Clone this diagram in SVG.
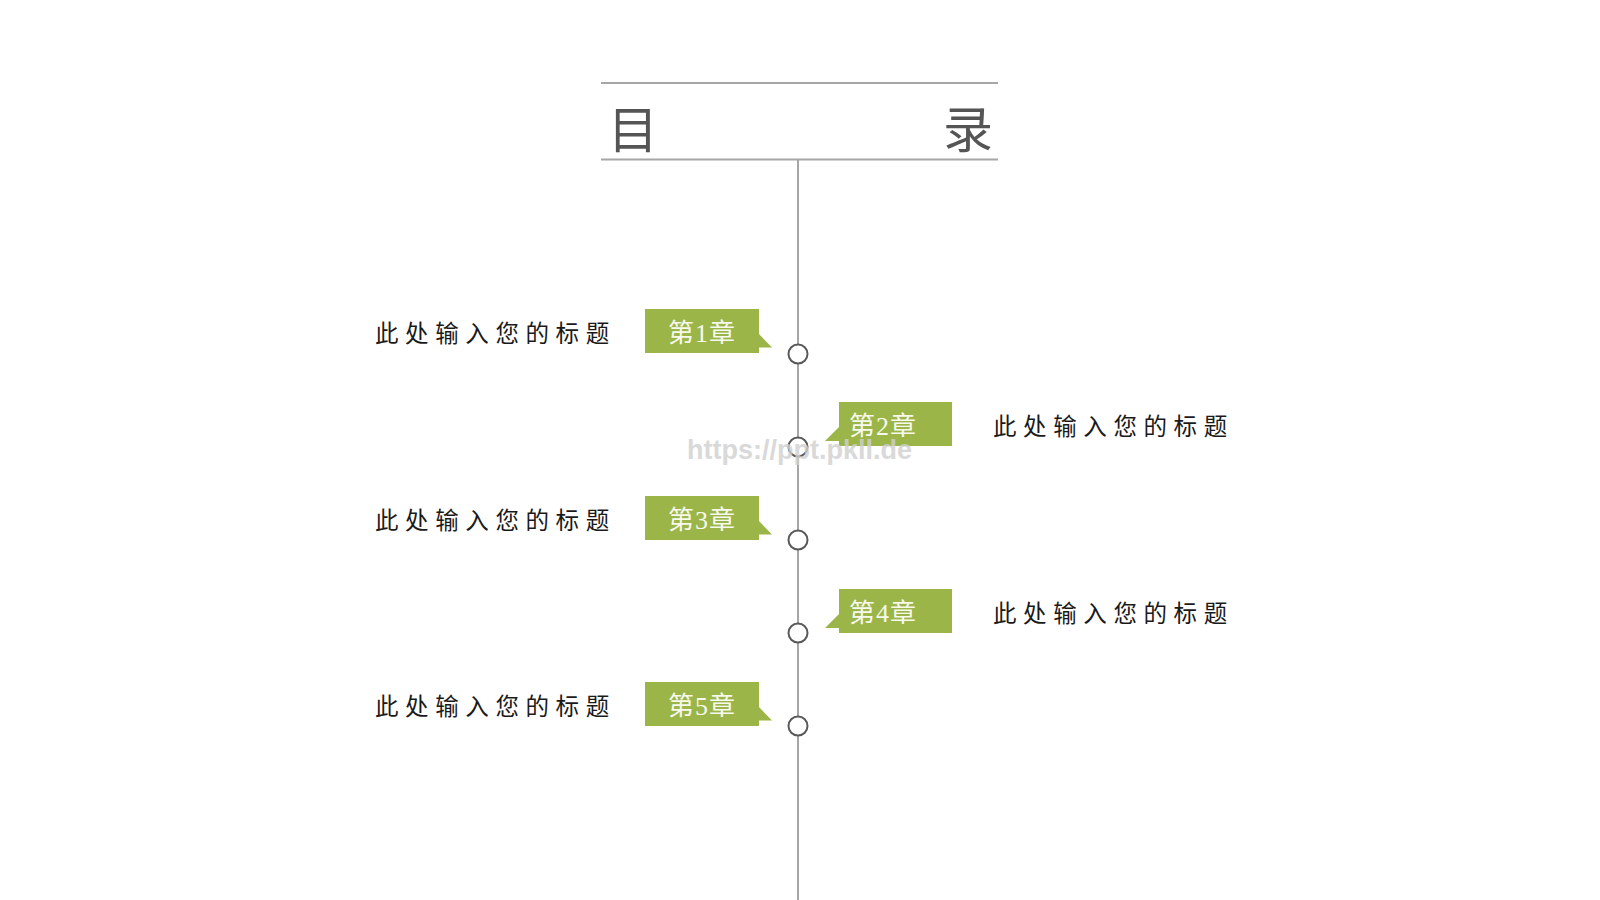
<svg xmlns="http://www.w3.org/2000/svg" width="1600" height="900" viewBox="0 0 1600 900">
<style>
.rule{stroke:#a6a6a6;stroke-width:2;fill:none}
.dot{fill:#fff;stroke:#595959;stroke-width:2}
.tag{fill:#9cb548}
.tagtxt{font-family:"Liberation Serif","Noto Sans CJK SC",serif;font-size:26px;fill:#f6f9ec;letter-spacing:1px}
.label{font-family:"Noto Sans CJK SC",sans-serif;font-size:23.5px;fill:#1a1a1a;letter-spacing:6.6px}
.title{font-family:"Noto Sans CJK SC",sans-serif;font-size:50px;fill:#555;font-weight:400}
.wm{font-family:"Liberation Sans","DejaVu Sans",sans-serif;font-size:27px;font-weight:bold;fill:#d0d0d0;opacity:0.8}
</style>
<rect width="1600" height="900" fill="#fff"/>
<g id="title">
<line class="rule" x1="601" y1="83" x2="998" y2="83"/>
<line class="rule" x1="601" y1="159.5" x2="998" y2="159.5"/>
<text class="title" x="608" y="148">目</text>
<text class="title" x="943" y="148">录</text>
</g>
<g id="connectors">
<line class="rule" x1="798" y1="159.5" x2="798" y2="900"/>
</g>
<g id="ch1">
<rect class="tag" x="645" y="309" width="114" height="44"/>
<polygon class="tag" points="758,333 772,347.5 758,347.5"/>
<text class="tagtxt" x="668" y="342">第1章</text>
<circle class="dot" cx="798" cy="354" r="9.5"/>
<text class="label" x="375" y="342">此处输入您的标题</text>
</g>
<g id="ch2">
<rect class="tag" x="839" y="402" width="113" height="44"/>
<polygon class="tag" points="840,426 825,441 840,441"/>
<text class="tagtxt" x="849" y="435">第2章</text>
<circle class="dot" cx="798" cy="447" r="9.5"/>
<text class="label" x="993" y="435">此处输入您的标题</text>
</g>
<g id="ch3">
<rect class="tag" x="645" y="496" width="114" height="44"/>
<polygon class="tag" points="758,520 772,534.5 758,534.5"/>
<text class="tagtxt" x="668" y="529">第3章</text>
<circle class="dot" cx="798" cy="540" r="9.5"/>
<text class="label" x="375" y="529">此处输入您的标题</text>
</g>
<g id="ch4">
<rect class="tag" x="839" y="589" width="113" height="44"/>
<polygon class="tag" points="840,613 825,628 840,628"/>
<text class="tagtxt" x="849" y="622">第4章</text>
<circle class="dot" cx="798" cy="633" r="9.5"/>
<text class="label" x="993" y="622">此处输入您的标题</text>
</g>
<g id="ch5">
<rect class="tag" x="645" y="682" width="114" height="44"/>
<polygon class="tag" points="758,706 772,720.5 758,720.5"/>
<text class="tagtxt" x="668" y="715">第5章</text>
<circle class="dot" cx="798" cy="726" r="9.5"/>
<text class="label" x="375" y="715">此处输入您的标题</text>
</g>
<text class="wm" x="687" y="459">https://ppt.pkll.de</text>
</svg>
